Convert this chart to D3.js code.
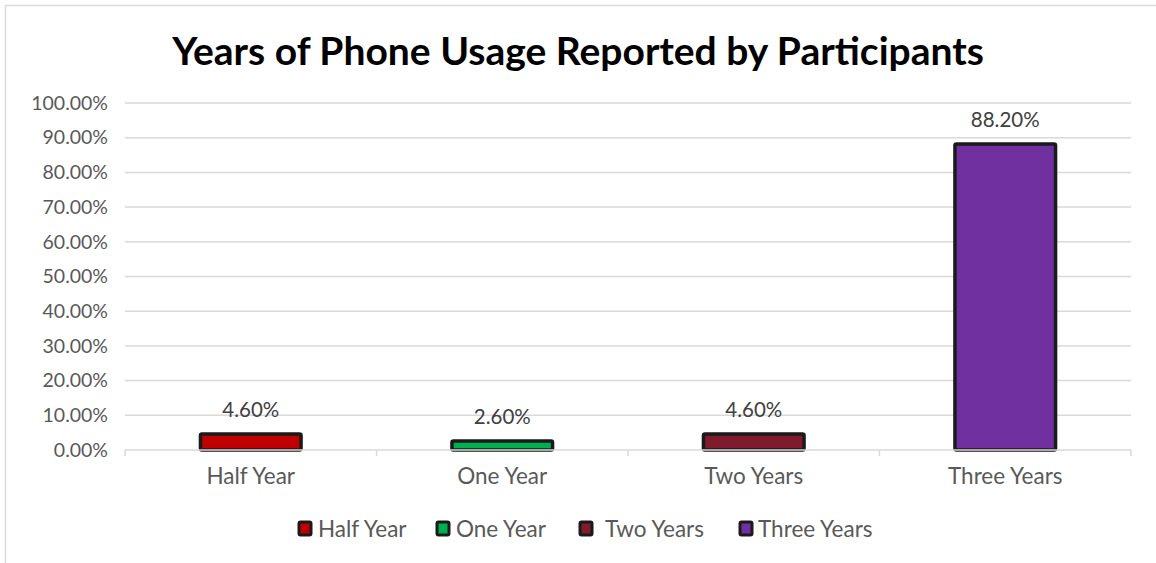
<!DOCTYPE html>
<html><head><meta charset="utf-8">
<script src="https://cdn.jsdelivr.net/npm/d3@7"></script>
<style>body{margin:0;background:#fff;}svg text{font-family:Lato,"Open Sans",sans-serif;}</style>
</head><body><svg id="c" width="1156" height="563"></svg>
<script>
const categories = ["Half Year","One Year","Two Years","Three Years"];
const values = [4.6, 2.6, 4.6, 88.2];
const colors = ["#C00000","#00B050","#7F1B2C","#7030A0"];
const yTicks = [0,10,20,30,40,50,60,70,80,90,100];

const svg = d3.select("#c");
svg.append("rect").attr("x",5.5).attr("y",5.5).attr("width",1160).attr("height",570)
  .attr("fill","#fff").attr("stroke","#d9d9d9").attr("stroke-width",1.5);

const m = {l:125, r:1131, t:103, b:450};
const x = d3.scaleBand().domain(categories).range([m.l,m.r]).paddingInner(0.6).paddingOuter(0.3);
const xb = d3.scaleBand().domain(categories).range([m.l,m.r]);
const y = d3.scaleLinear().domain([0,100]).range([m.b,m.t]);

svg.append("text").attr("x",578).attr("y",65).attr("text-anchor","middle")
  .attr("font-size",39).attr("font-weight","bold").attr("fill","#000")
  .text("Years of Phone Usage Reported by Participants");

// gridlines
svg.append("g").selectAll("line").data(yTicks.filter(d=>d>0)).join("line")
  .attr("x1",m.l).attr("x2",m.r).attr("y1",d=>y(d)).attr("y2",d=>y(d))
  .attr("stroke","#d9d9d9").attr("stroke-width",1.5);

// y labels
const ya = svg.append("g").attr("transform",`translate(${m.l},0)`)
  .call(d3.axisLeft(y).tickValues(yTicks).tickFormat(d=>d.toFixed(2)+"%").tickSize(0).tickPadding(17));
ya.select(".domain").remove();
ya.selectAll("text").attr("font-size",19.5).attr("fill","#595959").style("font-family","Lato,sans-serif");

// bars
svg.append("g").selectAll("rect").data(categories).join("rect")
  .attr("x",d=>x(d)).attr("width",x.bandwidth())
  .attr("y",(d,i)=>y(values[i])).attr("height",(d,i)=>y(0)-y(values[i]))
  .attr("fill",(d,i)=>colors[i]).attr("stroke","#1a1a1a").attr("stroke-width",3.5).attr("rx",1.5);

// x axis baseline and ticks
const xa = svg.append("g").attr("transform",`translate(0,${m.b})`);
xa.append("line").attr("x1",m.l).attr("x2",m.r).attr("stroke","#d9d9d9").attr("stroke-width",1.5);
const tickPos = categories.map(c=>xb(c)).concat([m.r]);
xa.selectAll("line.t").data(tickPos).join("line").attr("class","t")
  .attr("x1",d=>d).attr("x2",d=>d).attr("y1",0).attr("y2",6)
  .attr("stroke","#d9d9d9").attr("stroke-width",1.5);
xa.selectAll("text").data(categories).join("text")
  .attr("x",d=>xb(d)+xb.bandwidth()/2).attr("y",34).attr("text-anchor","middle")
  .attr("font-size",22.5).attr("fill","#595959").text(d=>d);

// data labels
svg.append("g").selectAll("text").data(categories).join("text")
  .attr("x",d=>x(d)+x.bandwidth()/2).attr("y",(d,i)=>y(values[i])-17).attr("text-anchor","middle")
  .attr("font-size",20.5).attr("fill","#404040").text((d,i)=>values[i].toFixed(2)+"%");

// legend
const legX = [299, 437, 580, 740];
const legTX = [318, 456, 605, 758];
const lg = svg.append("g");
categories.forEach((c,i)=>{
  lg.append("rect").attr("x",legX[i]).attr("y",522).attr("width",12).attr("height",13)
    .attr("fill",colors[i]).attr("stroke","#1a1a1a").attr("stroke-width",3).attr("rx",1.5);
  lg.append("text").attr("x",legTX[i]).attr("y",537).attr("font-size",22.5).attr("fill","#595959").text(c);
});
</script></body></html>
